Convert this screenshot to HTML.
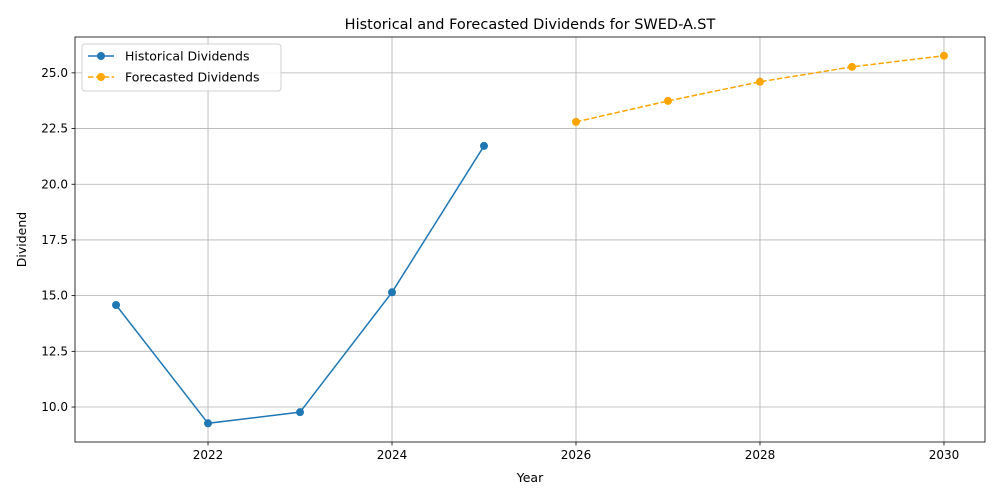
<!DOCTYPE html>
<html><head><meta charset="utf-8"><style>
body{margin:0;background:#fff;}
svg{display:block;font-family:"DejaVu Sans","Liberation Sans",sans-serif;}
</style></head><body>
<svg id="chart" width="1000" height="500"></svg>
<script>
const histYears=[2021,2022,2023,2024,2025];
const histValues=[14.58,9.27,9.77,15.15,21.72];
const fcYears=[2026,2027,2028,2029,2030];
const fcValues=[22.8,23.74,24.6,25.27,25.77];
const xTicks=[2022,2024,2026,2028,2030];
const yTicks=[10.0,12.5,15.0,17.5,20.0,22.5,25.0];

const L=75,R=985,T=37,B=442;
const xMin=2020.554,xMax=2030.446,yMin=8.43,yMax=26.61;
const sx=v=>L+(v-xMin)/(xMax-xMin)*(R-L);
const sy=v=>B-(v-yMin)/(yMax-yMin)*(B-T);
const NS="http://www.w3.org/2000/svg";
const svg=document.getElementById('chart');
function mk(tag,attrs,parent){const e=document.createElementNS(NS,tag);for(const k in attrs)e.setAttribute(k,attrs[k]);(parent||svg).appendChild(e);return e;}

const grid=mk('g',{});


xTicks.forEach(t=>{
  const x=sx(t);
  mk('line',{x1:x,x2:x,y1:T,y2:B,stroke:'#b0b0b0','stroke-width':0.8},grid);
  mk('line',{x1:x,x2:x,y1:B,y2:B+3.5,stroke:'#000','stroke-width':0.8},grid);
  const tx=mk('text',{x:x,y:B+17,'font-size':12,'text-anchor':'middle'},grid);
  tx.textContent=t;
  
  
});
yTicks.forEach(t=>{
  const y=sy(t);
  mk('line',{x1:L,x2:R,y1:y,y2:y,stroke:'#b0b0b0','stroke-width':0.8},grid);
  mk('line',{x1:L-3.5,x2:L,y1:y,y2:y,stroke:'#000','stroke-width':0.8},grid);
  const tx=mk('text',{x:L-7,y:y+4,'font-size':12,'text-anchor':'end'},grid);
  tx.textContent=t.toFixed(1);
  
  
});

function series(xs,ys,color,dash,name){
  const g=mk('g',{});
  
  
  const pts=xs.map((x,i)=>sx(x)+','+sy(ys[i])).join(' ');
  const attrs={points:pts,fill:'none',stroke:color,'stroke-width':1.5};
  if(dash)attrs['stroke-dasharray']='5.5,2.4';
  mk('polyline',attrs,g);
  xs.forEach((x,i)=>{
    const c=mk('circle',{cx:sx(x),cy:sy(ys[i]),r:4,fill:color},g);
    
    
  });
}
series(histYears,histValues,'#1f77b4',false,'historical-series');
series(fcYears,fcValues,'#ffa500',true,'forecast-series');

const frame=mk('rect',{x:L,y:T,width:R-L,height:B-T,fill:'none',stroke:'#000','stroke-width':0.8});



const title=mk('text',{x:(L+R)/2,y:29,'font-size':14.5,'text-anchor':'middle'});
title.textContent='Historical and Forecasted Dividends for SWED-A.ST';


const xl=mk('text',{x:(L+R)/2,y:482,'font-size':12.5,'text-anchor':'middle'});
xl.textContent='Year';


const yl=mk('text',{x:0,y:0,'font-size':12.5,'text-anchor':'middle',transform:'translate(26,'+((T+B)/2)+') rotate(-90)'});
yl.textContent='Dividend';



const lg=mk('g',{});


mk('rect',{x:82,y:44,width:199,height:47,rx:3,fill:'#fff',stroke:'#ccc','stroke-width':1,opacity:0.9},lg);
[['Historical Dividends','#1f77b4',false,56],['Forecasted Dividends','#ffa500',true,77]].forEach(([lab,c,d,y])=>{
  const e=mk('g',{},lg);
  
  
  const a={x1:88,x2:114,y1:y,y2:y,stroke:c,'stroke-width':1.5};
  if(d)a['stroke-dasharray']='5.5,2.4';
  mk('line',a,e);
  mk('circle',{cx:101,cy:y,r:4,fill:c},e);
  const t=mk('text',{x:125,y:y+4.5,'font-size':12.5},e);
  t.textContent=lab;
});
</script>
</body></html>
